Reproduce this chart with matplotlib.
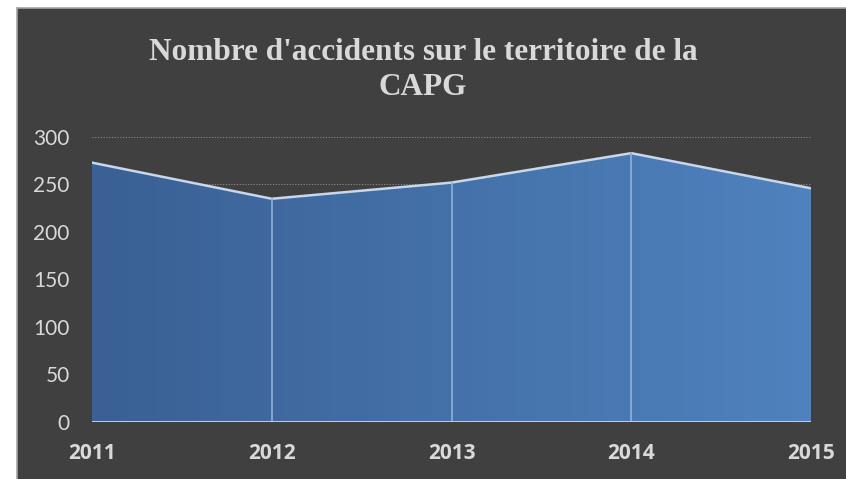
import numpy as np
import matplotlib
matplotlib.use("Agg")
from matplotlib import pyplot as plt

# values
years = [2011, 2012, 2013, 2014, 2015]
accidents = [273, 235, 252, 283, 246]
yticks = [0, 50, 100, 150, 200, 250, 300]
title = "Nombre d'accidents sur le territoire de la\nCAPG"

bg = '#404040'
txt = '#d9d9d9'

fig = plt.figure(figsize=(8.46, 4.79), dpi=100)
fig.patch.set_facecolor('white')

# dark panel with thin border
back = fig.add_axes([17/846, -0.01, 1 - 17/846 + 0.01, 1 - 8/479 + 0.01], zorder=0)
back.set_facecolor(bg)
back.set_xticks([])
back.set_yticks([])
for s in back.spines.values():
    s.set_color('#a6a6a6')
    s.set_linewidth(1.2)

ax = fig.add_axes([92/846, 1 - 422/479, (811 - 92)/846, (422 - 137)/479], zorder=1)
ax.set_facecolor('none')
ax.set_xlim(years[0], years[-1])
ax.set_ylim(0, 300)

# dotted gridlines
for t in yticks[1:]:
    ax.axhline(t, color='#8c8c8c', linestyle=(0, (1, 1.5)), linewidth=0.8, zorder=1)

# area with horizontal gradient
poly = ax.fill_between(years, accidents, 0, facecolor='none', edgecolor='none')
grad = np.linspace(0, 1, 256).reshape(1, -1)
cmap = matplotlib.colors.LinearSegmentedColormap.from_list('g', ['#3a6094', '#4f82be'])
im = ax.imshow(grad, cmap=cmap, aspect='auto', extent=[years[0], years[-1], 0, 300],
               zorder=2, interpolation='bicubic')
path = poly.get_paths()[0]
im.set_clip_path(path, transform=ax.transData)

# top edge and drop lines
ax.plot(years, accidents, color='#c9d7ea', linewidth=1.8, zorder=3, solid_joinstyle='miter')
for x, v in zip(years[1:-1], accidents[1:-1]):
    ax.plot([x, x], [0, v], color='#8fb0dc', linewidth=1.2, zorder=3)
ax.plot([years[-1], years[-1]], [0, accidents[-1]], color='#6f93c6', linewidth=1.0, zorder=3)
ax.axhline(0, color='#c8c8c8', linewidth=2.2, zorder=4)

for s in ax.spines.values():
    s.set_visible(False)

ax.set_yticks(yticks)
ax.set_yticklabels([str(t) for t in yticks], fontsize=15, color=txt, family='Lato')
ax.set_xticks(years)
ax.set_xticklabels([str(y) for y in years], fontsize=15, color=txt, family='Open Sans',
                   fontweight='bold')
ax.tick_params(axis='both', length=0)
ax.tick_params(axis='y', pad=16)
ax.tick_params(axis='x', pad=15)

fig.text(0.5, 1 - 70/479, title, ha='center', va='center', color=txt,
         fontsize=22.5, fontweight='bold', family='Liberation Serif', linespacing=1.3)

fig.savefig('out.png', dpi=100, facecolor=fig.get_facecolor())
